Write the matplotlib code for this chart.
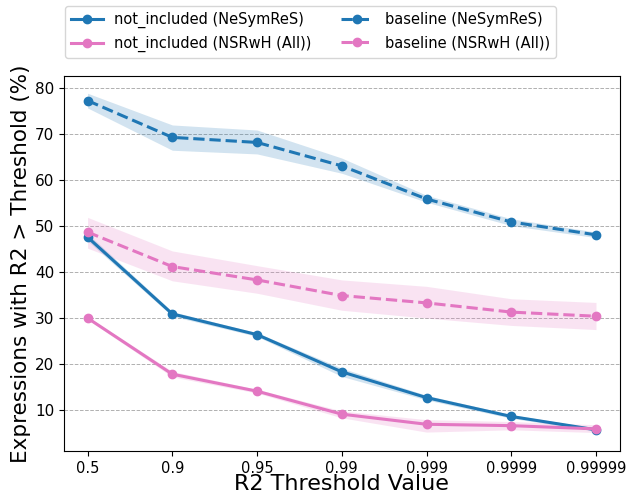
import matplotlib
matplotlib.use("Agg")
import matplotlib.pyplot as plt
import numpy as np

thresholds = ["0.5", "0.9", "0.95", "0.99", "0.999", "0.9999", "0.99999"]

ni_nesymres = [47.6, 30.9, 26.4, 18.3, 12.7, 8.6, 5.7]
ni_nesymres_lo = [46.8, 30.4, 26.0, 17.3, 12.2, 8.2, 5.4]
ni_nesymres_hi = [48.4, 31.4, 26.8, 19.1, 13.2, 9.0, 6.0]

ni_nsrwh = [30.0, 17.8, 14.1, 9.1, 6.9, 6.6, 5.9]
ni_nsrwh_lo = [29.7, 17.2, 13.7, 8.3, 5.2, 5.7, 5.1]
ni_nsrwh_hi = [30.3, 18.4, 14.5, 9.8, 7.9, 7.5, 6.8]

bl_nesymres = [77.3, 69.3, 68.2, 63.1, 55.9, 50.9, 48.1]
bl_nesymres_lo = [75.7, 66.5, 65.7, 61.5, 55.2, 50.1, 47.5]
bl_nesymres_hi = [78.9, 72.0, 70.9, 64.8, 56.7, 51.6, 48.7]

bl_nsrwh = [48.7, 41.2, 38.3, 34.9, 33.3, 31.3, 30.4]
bl_nsrwh_lo = [45.2, 38.1, 35.4, 31.7, 30.0, 28.4, 27.5]
bl_nsrwh_hi = [51.9, 44.6, 41.4, 38.3, 36.9, 34.2, 33.4]

blue = "#1f77b4"
pink = "#e377c2"

fig = plt.figure(figsize=(6.26, 4.95), dpi=100)
ax = fig.add_axes([0.102, 0.089, 0.888, 0.757])
x = np.arange(len(thresholds))

series = [
    (ni_nesymres, ni_nesymres_lo, ni_nesymres_hi, blue, "-", "not_included (NeSymReS)"),
    (ni_nsrwh, ni_nsrwh_lo, ni_nsrwh_hi, pink, "-", "not_included (NSRwH (All))"),
    (bl_nesymres, bl_nesymres_lo, bl_nesymres_hi, blue, "--", "baseline (NeSymReS)"),
    (bl_nsrwh, bl_nsrwh_lo, bl_nsrwh_hi, pink, "--", "baseline (NSRwH (All))"),
]
for y, lo, hi, c, ls, lab in series:
    ax.fill_between(x, lo, hi, color=c, alpha=0.2, linewidth=0)
    ax.plot(x, y, ls, color=c, marker="o", markersize=6, linewidth=2.2, label=lab)

ax.set_xticks(x)
ax.set_xticklabels(thresholds, fontsize=10.5)
ax.tick_params(axis="y", labelsize=11)
ax.set_yticks([10, 20, 30, 40, 50, 60, 70, 80])
ax.set_ylim(1.1, 82.6)
ax.set_xlim(-0.28, 6.28)
ax.grid(axis="y", linestyle="--", color="#b0b0b0", linewidth=0.7)
ax.set_axisbelow(True)
ax.set_xlabel("R2 Threshold Value", fontsize=16, labelpad=-1)
ax.set_ylabel("Expressions with R2 > Threshold (%)", fontsize=15.5, labelpad=3)
ax.legend(loc="lower center", bbox_to_anchor=(0.443, 1.048), ncol=2, fontsize=10.5,
          handlelength=2.2, columnspacing=2.0, labelspacing=0.55, borderaxespad=0)

fig.savefig("out.png", dpi=100)
